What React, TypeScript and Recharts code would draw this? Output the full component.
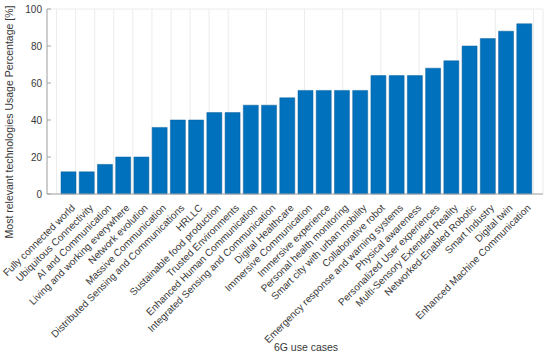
import { BarChart, Bar, XAxis, YAxis, CartesianGrid, Label } from "recharts";

// 6G use cases, sorted by usage
const useCases = [
    "Fully connected world",
    "Ubiquitous Connectivity",
    "AI and Communication",
    "Living and working everywhere",
    "Network evolution",
    "Massive Communication",
    "Distributed Sensing and Communications",
    "HRLLC",
    "Sustainable food production",
    "Trusted Environments",
    "Enhanced Human Communication",
    "Integrated Sensing and Communication",
    "Digital Healthcare",
    "Immersive Communication",
    "Immersive experience",
    "Personal health monitoring",
    "Smart city with urban mobility",
    "Collaborative robot",
    "Emergency response and warning systems",
    "Physical awareness",
    "Personalized User experiences",
    "Multi-Sensory  Extended Reality",
    "Networked-Enabled Robotic",
    "Smart Industry",
    "Digital twin",
    "Enhanced Machine Communication",
];

const usage = [
    12, 12, 16, 20, 20, 36, 40, 40, 44, 44, 48, 48, 52, 56, 56, 56, 56, 64, 64, 64, 68, 72, 80, 84, 88, 92,
];

const yTicks = [0, 20, 40, 60, 80, 100];

const data = useCases.map((name, i) => ({ name, value: usage[i] }));

const FONT = "Arial, 'Liberation Sans', Helvetica, sans-serif";
const TEXT = "#383838";
const AXIS = "#a6a6a6";

function RotatedTick({ x, y, payload }: any) {
    return (
        <g transform={`translate(${x + 5},${y + 4})`}>
            <text
                x={0}
                y={0}
                dy="0.35em"
                textAnchor="end"
                transform="rotate(-45)"
                fontSize={10}
                fontFamily={FONT}
                fill={TEXT}
            >
                {payload.value}
            </text>
        </g>
    );
}

export default function App() {
    return (
        <div style={{ position: "absolute", left: 0, top: 0, background: "#fff" }}>
            <BarChart
                width={550}
                height={357}
                data={data}
                margin={{ top: 9, right: 7, left: 0, bottom: 0 }}
                barCategoryGap={0}
            >
                <CartesianGrid stroke="#ececec" strokeWidth={1} />
                <XAxis
                    xAxisId="bottom"
                    dataKey="name"
                    interval={0}
                    height={163}
                    padding={{ left: 12, right: 10 }}
                    tick={<RotatedTick />}
                    tickLine={false}
                    axisLine={{ stroke: AXIS }}
                >
                    <Label
                        value="6G use cases"
                        position="insideBottom"
                        offset={6}
                        dx={11}
                        style={{ fontSize: 10.5, fontFamily: FONT, fill: TEXT }}
                    />
                </XAxis>
                <XAxis
                    xAxisId="top"
                    orientation="top"
                    dataKey="name"
                    interval={0}
                    height={0}
                    padding={{ left: 12, right: 10 }}
                    tick={false}
                    tickSize={-4}
                    axisLine={{ stroke: AXIS }}
                    tickLine={{ stroke: AXIS }}
                />
                <YAxis
                    yAxisId="left"
                    width={47}
                    domain={[0, 100]}
                    ticks={yTicks}
                    tickSize={-4}
                    tickMargin={9}
                    axisLine={{ stroke: AXIS }}
                    tickLine={{ stroke: AXIS }}
                    tick={{ fontSize: 10, fontFamily: FONT, fill: TEXT }}
                >
                    <Label
                        content={() => (
                            <text
                                x={13}
                                y={122}
                                transform="rotate(-90, 13, 122)"
                                textAnchor="middle"
                                fontSize={10.5}
                                fontFamily={FONT}
                                fill={TEXT}
                            >
                                Most relevant technologies Usage Percentage [%]
                            </text>
                        )}
                    />
                </YAxis>
                <YAxis
                    yAxisId="right"
                    orientation="right"
                    width={0}
                    domain={[0, 100]}
                    ticks={yTicks}
                    tick={false}
                    tickSize={-4}
                    axisLine={{ stroke: AXIS }}
                    tickLine={{ stroke: AXIS }}
                />
                <Bar
                    xAxisId="bottom"
                    yAxisId="left"
                    dataKey="value"
                    fill="#0072BD"
                    stroke="#0b5f9c"
                    strokeWidth={0.5}
                    barSize={15}
                    isAnimationActive={false}
                />
            </BarChart>
        </div>
    );
}
